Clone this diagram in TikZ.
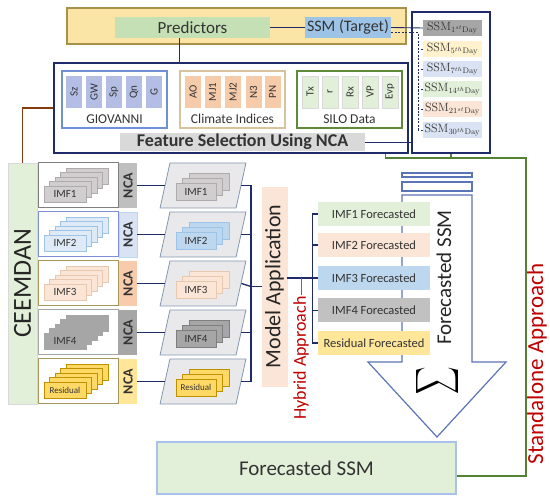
\documentclass[tikz,border=0pt]{standalone}
\usepackage[no-math]{fontspec}
\setmainfont{Carlito}
\usetikzlibrary{shadows, positioning}

\definecolor{navy}{HTML}{1F2A6B}
\definecolor{goldline}{HTML}{A8914A}
\definecolor{paleyellow}{HTML}{FBE5A6}
\definecolor{predgreen}{HTML}{C5E0B4}
\definecolor{targetblue}{HTML}{9DC3E6}
\definecolor{giovblue}{HTML}{7090D4}
\definecolor{giovfill}{HTML}{B4BEE4}
\definecolor{climtan}{HTML}{D8C49C}
\definecolor{climfill}{HTML}{F6CBAA}
\definecolor{silogreen}{HTML}{5E8A3A}
\definecolor{silofill}{HTML}{E2EFD9}
\definecolor{lightgray}{HTML}{D9D9D9}
\definecolor{midgray}{HTML}{A6A6A6}
\definecolor{darkgray}{HTML}{7F7F7F}
\definecolor{ncagray}{HTML}{BFBFBF}
\definecolor{cardgray}{HTML}{D0CECE}
\definecolor{cardedge}{HTML}{AFABAB}
\definecolor{paleblue}{HTML}{DAE3F3}
\definecolor{icyblue}{HTML}{DEEBF7}
\definecolor{palegreen}{HTML}{E2EFD9}
\definecolor{palepeach}{HTML}{FBE5D6}
\definecolor{peachedge}{HTML}{E8C9B0}
\definecolor{palecream}{HTML}{FFF2CC}
\definecolor{peach}{HTML}{F8CBAD}
\definecolor{yellowfill}{HTML}{FFE699}
\definecolor{cardyellow}{HTML}{FFD966}
\definecolor{cardgold}{HTML}{BF9000}
\definecolor{skyblue}{HTML}{BDD7EE}
\definecolor{paragray}{HTML}{E9E9EC}
\definecolor{paraedge}{HTML}{8497B0}
\definecolor{arrowblue}{HTML}{5B74B5}
\definecolor{glowblue}{HTML}{A8C2EC}
\definecolor{standgreen}{HTML}{548235}
\definecolor{darkred}{HTML}{C00000}
\definecolor{rust}{HTML}{843C0C}
\definecolor{rowolive}{HTML}{A8955A}
\definecolor{rowblue}{HTML}{7F8FD6}

\begin{document}
\begin{tikzpicture}[x=1pt, y=-1pt,
    box/.style={rectangle, inner sep=0pt, text=black!80},
    line/.style={draw=navy, line width=1.3pt},
    frame/.style={box, draw=navy, line width=1.4pt},
    group/.style={box, draw=#1, line width=1.2pt, fill=white, minimum width=105pt, minimum height=57pt},
    var/.style={box, fill=#1, rotate=90, minimum width=32pt, minimum height=16pt, font=\fontsize{11}{11}\selectfont},
    grouplabel/.style={inner sep=0pt, text=black!80, font=\fontsize{13.5}{14}\selectfont},
    day/.style={box, fill=#1, minimum width=59pt, minimum height=16pt, font=\fontsize{12}{12}\selectfont},
    imfrow/.style={box, draw=#1, line width=1pt, fill=white, minimum width=80pt, minimum height=45pt},
    nca/.style={box, fill=#1, rotate=90, minimum width=45pt, minimum height=18pt, font=\bfseries\fontsize{14}{14}\selectfont},
    imfstack/.style 2 args={box, fill=#1, draw=#2, minimum width=42pt, minimum height=16pt, font=\fontsize{11}{11}\selectfont,
        copy shadow={shadow xshift=22pt, shadow yshift=18pt},
        copy shadow={shadow xshift=16.5pt, shadow yshift=13.5pt},
        copy shadow={shadow xshift=11pt, shadow yshift=9pt},
        copy shadow={shadow xshift=5.5pt, shadow yshift=4.5pt}},
    imfcopy/.style 2 args={box, fill=#1, draw=#2, minimum width=40pt, minimum height=17pt, font=\fontsize{11}{11}\selectfont,
        copy shadow={shadow xshift=13pt, shadow yshift=10pt},
        copy shadow={shadow xshift=6.5pt, shadow yshift=5pt}},
    para/.style={rectangle, xslant=0.22, draw=paraedge, fill=paragray, line width=0.8pt, minimum width=76pt, minimum height=45pt, inner sep=0pt},
    forecast/.style={box, fill=#1, minimum width=112pt, minimum height=24pt, font=\fontsize{12.5}{13}\selectfont},
    redtext/.style={text=darkred, rotate=90, inner sep=1pt},
    stand/.style={draw=standgreen, line width=1.3pt},
    arrowline/.style={draw=arrowblue, line width=1.2pt, fill=white}
]
    \useasboundingbox (0,0) rectangle (550,500);

    % Inputs
    \node[box, draw=goldline, line width=1.2pt, fill=paleyellow, minimum width=339pt, minimum height=36pt] (inputs) at (236.5,26) {};
    \node[box, fill=predgreen, minimum width=155pt, minimum height=21pt, font=\fontsize{17}{17}\selectfont] (pred) at (192.5,27.5) {Predictors};
    \node[box, fill=targetblue, minimum width=86pt, minimum height=21pt, font=\fontsize{16}{16}\selectfont] (target) at (348,27.5) {SSM (Target)};

    % Feature selection
    \node[frame, minimum width=354pt, minimum height=90pt] (fs) at (231,108) {};
    \node[group=giovblue] (giov) at (114.5,99.5) {};
    \node[group=climtan] (clim) at (232.5,99.5) {};
    \node[group=silogreen] (silo) at (349.5,99.5) {};

    \node[var=giovfill] (sz) at (74,92) {Sz};
    \node[var=giovfill] (gw) at (94,92) {GW};
    \node[var=giovfill] (sp) at (114,92) {Sp};
    \node[var=giovfill] (qn) at (134,92) {Qn};
    \node[var=giovfill] (g) at (154,92) {G};
    \node[grouplabel] (giovl) at (114.5,119) {GIOVANNI};

    \node[var=climfill] (ao) at (193,92) {AO};
    \node[var=climfill] (mj1) at (212.5,92) {MJ1};
    \node[var=climfill] (mj2) at (233,92) {MJ2};
    \node[var=climfill] (n3) at (253.5,92) {N3};
    \node[var=climfill] (pn) at (272.5,92) {PN};
    \node[grouplabel] (climl) at (232.5,119) {Climate Indices};

    \node[var=silofill, draw=lightgray] (tx) at (310,92) {Tx};
    \node[var=silofill, draw=lightgray] (r) at (330,92) {r};
    \node[var=silofill, draw=lightgray] (rx) at (350,92) {Rx};
    \node[var=silofill, draw=lightgray] (vp) at (370,92) {VP};
    \node[var=silofill, draw=lightgray] (evp) at (390,92) {Evp};
    \node[grouplabel] (silol) at (349.5,119) {SILO Data};

    \node[box, fill=lightgray, minimum width=245pt, minimum height=18pt, font=\bfseries\fontsize{18}{18}\selectfont] (fsl) at (242.5,142) {Feature Selection Using NCA};

    % Forecast horizons
    \node[frame, minimum width=78pt, minimum height=141pt] (days) at (451,82.5) {};
    \node[day=midgray] (d1) at (452.5,28) {$\mathrm{SSM}_{1^{st}\mathrm{Day}}$};
    \node[day=palecream] (d2) at (452.5,49) {$\mathrm{SSM}_{5^{th}\mathrm{Day}}$};
    \node[day=paleblue] (d3) at (452.5,69.5) {$\mathrm{SSM}_{7^{th}\mathrm{Day}}$};
    \node[day=palegreen] (d4) at (452.5,89.5) {$\mathrm{SSM}_{14^{th}\mathrm{Day}}$};
    \node[day=palepeach] (d5) at (452.5,109.5) {$\mathrm{SSM}_{21^{st}\mathrm{Day}}$};
    \node[day=paleblue] (d6) at (452.5,130) {$\mathrm{SSM}_{30^{th}\mathrm{Day}}$};
    \coordinate (dd) at (418,130);

    \draw[line] (pred.east) -- (target.west);
    \draw[line] ([xshift=-13pt]pred.south) -- ([xshift=-13pt]pred.south |- fs.north);
    \draw[line, line width=0.9pt] (target.east) -- (d1.west);
    \draw[line, line width=0.9pt, dash pattern=on 2pt off 1.5pt] ([yshift=-5pt]target.east) -| (dd);
    \draw[line, line width=0.9pt, dash pattern=on 2pt off 1.5pt] (d2.west) -- (d2.west -| dd);
    \draw[line, line width=0.9pt, dash pattern=on 2pt off 1.5pt] (d3.west) -- (d3.west -| dd);
    \draw[line, line width=0.9pt, dash pattern=on 2pt off 1.5pt] (d4.west) -- (d4.west -| dd);
    \draw[line, line width=0.9pt, dash pattern=on 2pt off 1.5pt] (d5.west) -- (d5.west -| dd);
    \draw[line, line width=0.9pt, dash pattern=on 2pt off 1.5pt] (d6.west) -- (dd);
    \draw[line, line width=0.9pt] (fsl.east) -- (fsl.east -| days.west);

    % Decomposition
    \node[box, fill=palegreen, draw=lightgray, minimum width=29pt, minimum height=241pt] (ceemdan) at (22.5,283.5) {};
    \node[rotate=90, text=black!85, font=\fontsize{26}{26}\selectfont] (ceemdanl) at (ceemdan) {CEEMDAN};
    \draw[draw=rust, line width=1.3pt] (fs.west) -| (ceemdan.north);

    \node[imfrow=darkgray] (r1) at (78,185.5) {};
    \node[imfstack={cardgray}{cardedge}] (c1) at (65,194) {IMF1};
    \node[nca=ncagray] (n1) at (128,185.5) {NCA};
    \node[imfrow=rowblue] (r2) at (78,234.5) {};
    \node[imfstack={icyblue}{targetblue}] (c2) at (65,243) {IMF2};
    \node[nca=paleblue, draw=skyblue] (n2) at (128,234.5) {NCA};
    \node[imfrow=rowolive] (r3) at (78,283.5) {};
    \node[imfstack={palepeach}{peachedge}] (c3) at (65,292) {IMF3};
    \node[nca=peach] (n3b) at (128,283.5) {NCA};
    \node[imfrow=midgray] (r4) at (78,332.5) {};
    \node[imfstack={midgray}{midgray}] (c4) at (65,341) {IMF4};
    \node[nca=midgray] (n4) at (128,332.5) {NCA};
    \node[imfrow=rowolive] (r5) at (78,381.5) {};
    \node[imfstack={cardyellow}{cardgold}, font=\fontsize{9}{9}\selectfont] (c5) at (65,390) {Residual};
    \node[nca=yellowfill] (n5) at (128,381.5) {NCA};

    % Selected inputs
    \node[para] (p1) at (203,185.5) {};
    \node[imfcopy={cardgray}{cardedge}] (q1) at (196,191.5) {IMF1};
    \node[para] (p2) at (203,234.5) {};
    \node[imfcopy={skyblue}{targetblue}] (q2) at (196,240.5) {IMF2};
    \node[para] (p3) at (203,283.5) {};
    \node[imfcopy={palepeach}{peachedge}] (q3) at (196,289.5) {IMF3};
    \node[para] (p4) at (203,332.5) {};
    \node[imfcopy={midgray}{darkgray}] (q4) at (196,338.5) {IMF4};
    \node[para] (p5) at (203,381.5) {};
    \node[imfcopy={cardyellow}{cardgold}, font=\fontsize{9}{9}\selectfont] (q5) at (196,387.5) {Residual};

    \draw[line] (n1.south) -- (p1.west);
    \draw[line] (n2.south) -- (p2.west);
    \draw[line] (n3b.south) -- (p3.west);
    \draw[line] (n4.south) -- (p4.west);
    \draw[line] (n5.south) -- (p5.west);

    % Model
    \node[box, fill=palepeach, draw=peach!50, minimum width=25pt, minimum height=199pt] (app) at (274.5,286.5) {};
    \node[rotate=90, text=black!85, font=\fontsize{22}{22}\selectfont] (appl) at (app) {Model Application};
    \coordinate (abus) at (251,286.5);
    \draw[line] (p1.east) -| (abus);
    \draw[line] (p2.east) -| (abus);
    \draw[line] (p3.east) -- (abus);
    \draw[line] (p4.east) -| (abus);
    \draw[line] (p5.east) -| (abus);
    \draw[line] (abus) -- (app.west);

    % Aggregation
    \draw[arrowline] (402,173) rectangle (472,177);
    \draw[arrowline] (402,182) rectangle (472,191);
    \draw[arrowline] (402,195) -- (472,195) -- (472,362) -- (506,362) -- (437,437) -- (368,362) -- (402,362) -- cycle;
    \node[rotate=90, text=black!85, font=\fontsize{21}{21}\selectfont] (fcssm) at (444,277.5) {Forecasted SSM};
    \node[rotate=90, xscale=1.9, yscale=3] (sum) at (437,381) {$\displaystyle\sum$};

    \node[forecast=palegreen] (f1) at (374,214) {IMF1 Forecasted};
    \node[forecast=palepeach] (f2) at (374,245) {IMF2 Forecasted};
    \node[forecast=skyblue] (f3) at (374,278) {IMF3 Forecasted};
    \node[forecast=midgray!70] (f4) at (374,310.5) {IMF4 Forecasted};
    \node[forecast=yellowfill] (f5) at (374,343) {Residual Forecasted};

    \draw[line] (f1.west) -- ++(-5,0) |- (f5.west);
    \draw[line] (f2.west) -- ++(-5,0);
    \draw[line] (f4.west) -- ++(-5,0);
    \draw[line] (app.east |- f3.west) -- (f3.west);

    \node[redtext, font=\fontsize{18}{18}\selectfont] (hybrid) at (301,358) {Hybrid Approach};
    \draw[stand, line width=1pt] (hybrid.east) -- (hybrid.east |- f3.west);

    % Output
    \node[box, fill=palegreen, draw=glowblue, line width=2.5pt, minimum width=299pt, minimum height=52pt, font=\fontsize{21}{21}\selectfont] (fc) at (306.5,468) {Forecasted SSM};

    \coordinate (sa) at (526,158);
    \draw[stand] ([xshift=-23pt]fs.south east) |- (sa) |- ([yshift=-8pt]fc.east);
    \draw[stand] (days.south) -- (days.south |- sa);
    \node[redtext, font=\fontsize{23}{23}\selectfont] (standalone) at (537,364) {Standalone Approach};
\end{tikzpicture}
\end{document}
